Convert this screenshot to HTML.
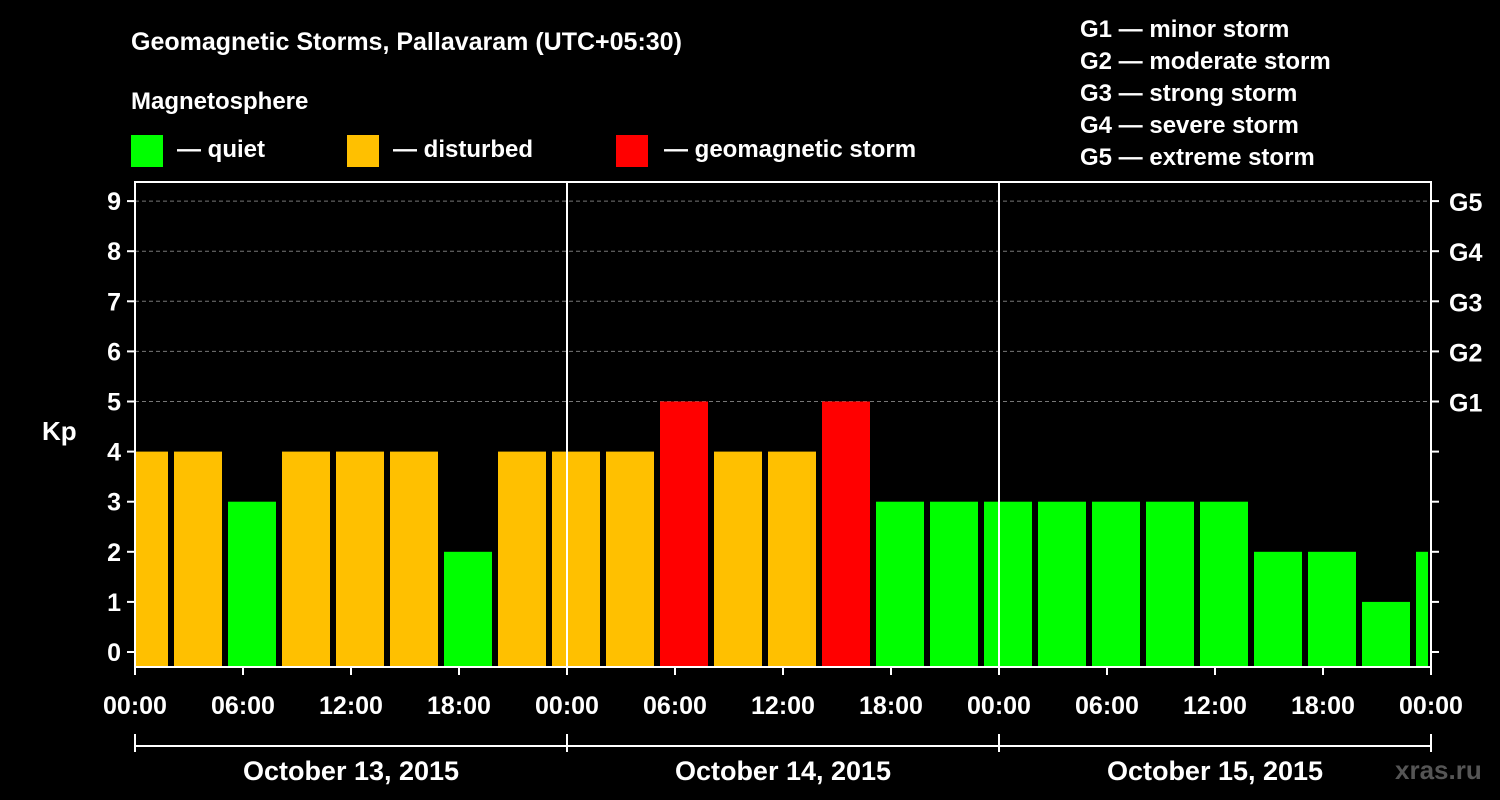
<!DOCTYPE html>
<html><head><meta charset="utf-8"><style>
body{margin:0;background:#000;width:1500px;height:800px;overflow:hidden}
svg{display:block;font-family:"Liberation Sans",Arial,sans-serif;font-weight:bold}
</style></head><body>
<svg id="c" width="1500" height="800" xmlns="http://www.w3.org/2000/svg">
<text x="131" y="50" fill="#fff" font-size="25">Geomagnetic Storms, Pallavaram (UTC+05:30)</text>
<text x="131" y="109" fill="#fff" font-size="24">Magnetosphere</text>
<g><rect x="131" y="135" width="32" height="32" fill="#00ff00"/><text x="177" y="157" fill="#fff" font-size="24">— quiet</text></g>
<g><rect x="347" y="135" width="32" height="32" fill="#ffc000"/><text x="393" y="157" fill="#fff" font-size="24">— disturbed</text></g>
<g><rect x="616" y="135" width="32" height="32" fill="#ff0000"/><text x="664" y="157" fill="#fff" font-size="24">— geomagnetic storm</text></g>
<g fill="#fff" font-size="24">
<text x="1080" y="37">G1 — minor storm</text><text x="1080" y="69">G2 — moderate storm</text><text x="1080" y="101">G3 — strong storm</text><text x="1080" y="133">G4 — severe storm</text><text x="1080" y="165">G5 — extreme storm</text></g>
<text x="42" y="440" fill="#fff" font-size="26">Kp</text>
<text x="1395" y="779" fill="#555" font-size="26">xras.ru</text>
<g id="plot"></g>
</svg>
<script>
const kpValues=[4,4,3,4,4,4,2,4,4,4,5,4,4,5,3,3,3,3,3,3,3,2,2,1,2];
const yTicks=[0,1,2,3,4,5,6,7,8,9];
const gLabels=["G1","G2","G3","G4","G5"];
const xTickLabels=["00:00","06:00","12:00","18:00","00:00","06:00","12:00","18:00","00:00","06:00","12:00","18:00","00:00"];
const dayLabels=["October 13, 2015","October 14, 2015","October 15, 2015"];
const L=135,R=1431,T=182,B=667;
const xh=h=>L+h*(R-L)/72;
const yv=v=>652-v*50.1;
const NS="http://www.w3.org/2000/svg";
const g=document.getElementById('plot');
function mk(t,a,p){const e=document.createElementNS(NS,t);for(const k in a)e.setAttribute(k,a[k]);(p||g).appendChild(e);return e;}
// grid
for(let v=5;v<=9;v++){const e=mk('line',{x1:L,x2:R,y1:yv(v),y2:yv(v),stroke:'#777','stroke-dasharray':'4,3','stroke-width':1});

}
// bars
kpValues.forEach((v,i)=>{let x0=xh(-1+3*i)+3,x1=xh(2+3*i)-3;x0=Math.max(x0,L+1);x1=Math.min(x1,R-3);
const c=v>=5?'#ff0000':(v>=4?'#ffc000':'#00ff00');
const r=mk('rect',{x:x0,y:yv(v),width:x1-x0,height:B-yv(v),fill:c});

});
// frame
const f=mk('rect',{x:L,y:T,width:R-L,height:B-T,fill:'none',stroke:'#fff','stroke-width':2});


[24,48].forEach(h=>{const e=mk('line',{x1:xh(h),x2:xh(h),y1:T,y2:B,stroke:'#fff','stroke-width':2});

});
// y ticks
yTicks.forEach(v=>{mk('line',{x1:L-8,x2:L,y1:yv(v),y2:yv(v),stroke:'#fff','stroke-width':2});
mk('line',{x1:R,x2:R+8,y1:yv(v),y2:yv(v),stroke:'#fff','stroke-width':2});
const t=mk('text',{x:L-14,y:yv(v)+9,fill:'#fff','font-size':25,'text-anchor':'end'});t.textContent=v;

});
gLabels.forEach((s,i)=>{const t=mk('text',{x:R+18,y:yv(5+i)+10,fill:'#fff','font-size':25});t.textContent=s;

});
// x ticks
xTickLabels.forEach((s,i)=>{const x=xh(i*6);mk('line',{x1:x,x2:x,y1:B,y2:B+8,stroke:'#fff','stroke-width':2});
const t=mk('text',{x:x,y:714,fill:'#fff','font-size':25,'text-anchor':'middle'});t.textContent=s;

});
// day bracket
mk('line',{x1:L,x2:R,y1:746,y2:746,stroke:'#fff','stroke-width':2});
[0,24,48,72].forEach(h=>mk('line',{x1:xh(h),x2:xh(h),y1:734,y2:752,stroke:'#fff','stroke-width':2}));
dayLabels.forEach((s,i)=>{const t=mk('text',{x:xh(12+24*i),y:780,fill:'#fff','font-size':27,'text-anchor':'middle'});t.textContent=s;

});
</script>
</body></html>
